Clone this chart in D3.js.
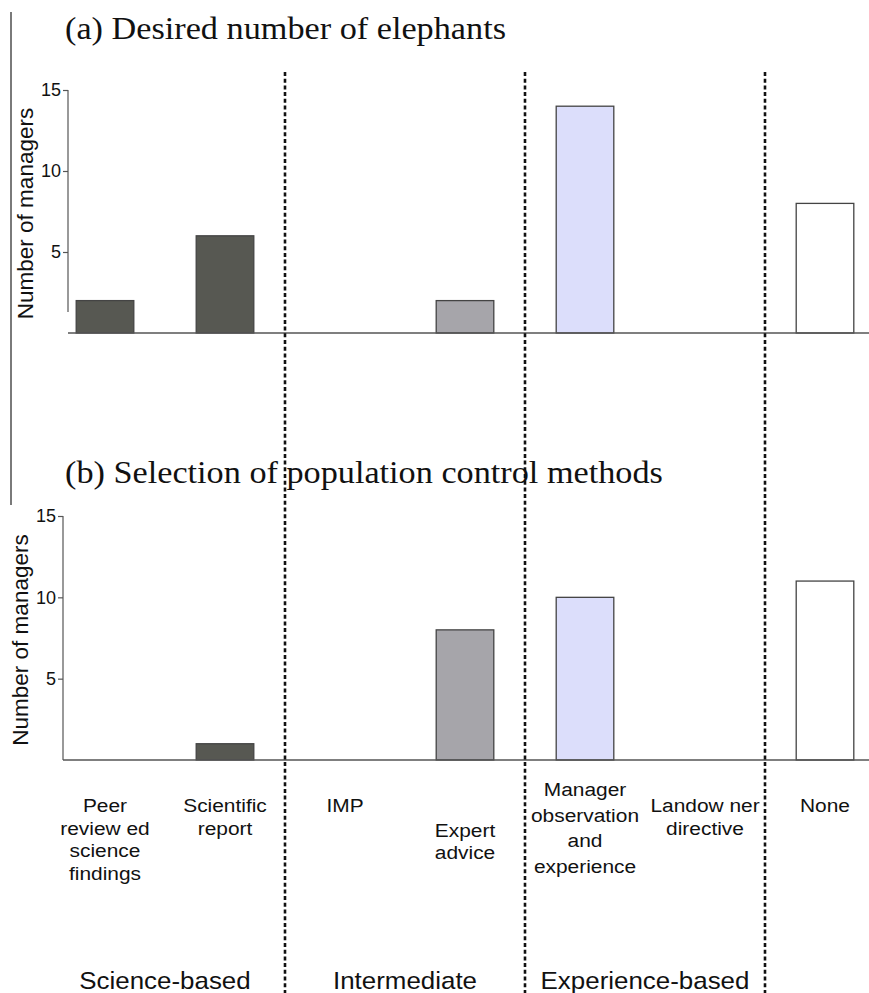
<!DOCTYPE html>
<html><head><meta charset="utf-8">
<script src="https://cdn.jsdelivr.net/npm/d3@7"></script>
<style>body{margin:0;background:#fff} svg{display:block}</style>
</head><body><svg id="c" width="869" height="993"></svg>
<script>
// ---------------- data ----------------
const categories = ["Peer reviewed science findings","Scientific report","IMP","Expert advice","Manager observation and experience","Landowner directive","None"];
const categoryLabelLines = [["Peer","review ed","science","findings"],["Scientific","report"],["IMP"],["Expert","advice"],["Manager","observation","and","experience"],["Landow ner","directive"],["None"]];
const categoryGroups = ["Science-based","Science-based","Intermediate","Intermediate","Experience-based","Experience-based","None"];
const groups = ["Science-based","Intermediate","Experience-based"];
const desiredNumber = [2,6,0,2,14,0,8];
const populationControl = [0,1,0,8,10,0,11];
const yTicks = [5,10,15];
const panelTitles = ["(a) Desired number of elephants","(b) Selection of population control methods"];
const yAxisTitle = "Number of managers";

// ---------------- layout / style ----------------
const W = 869, H = 993;
const groupColors = {"Science-based":"#575852","Intermediate":"#a6a5aa","Experience-based":"#dcdefb","None":"#ffffff"};
const SANS = "'Liberation Sans', Arial, Helvetica, sans-serif";
const SERIF = "'Liberation Serif', 'Times New Roman', serif";
const panels = [
  {values: desiredNumber, title: panelTitles[0], titleY: 39, axisX: 68, base: 333, top: 90, axisEnd: 1.3, labelX: 33},
  {values: populationControl, title: panelTitles[1], titleY: 483, axisX: 63, base: 760, top: 516, axisEnd: 0, labelX: 28}
];
const labelLayout = {
  "Expert advice": {y: 837, lh: 22},
  "Manager observation and experience": {y: 796, lh: 25.5},
  "Landowner directive": {y: 812, lh: 23}
};
const defaultLabelLayout = {y: 812, lh: 22.5};

const svg = d3.select("#c");
svg.append("rect").attr("width",W).attr("height",H).attr("fill","#fff");

const x = d3.scaleBand().domain(categories).range([45, 885]).paddingInner(0.52).paddingOuter(0.26);

function sText(g, px, py, txt, size, family, sx, anchor) {
  return g.append("text")
    .attr("transform", `translate(${px},${py}) scale(${sx},1)`)
    .attr("text-anchor", anchor)
    .attr("font-family", family)
    .attr("font-size", size)
    .attr("fill", "#111")
    .text(txt);
}

// left gray rule
svg.append("line").attr("x1",11).attr("x2",11).attr("y1",12).attr("y2",505)
  .attr("stroke","#7a7a7a").attr("stroke-width",2);

panels.forEach(p => {
  const g = svg.append("g");
  const y = d3.scaleLinear().domain([0,15]).range([p.base, p.top]);

  // title
  sText(g, 65, p.titleY, p.title, 32, SERIF, 1.07, "start");

  // y axis
  const ax = g.append("g").attr("transform",`translate(${p.axisX},0)`)
    .call(d3.axisLeft(y).tickValues(yTicks).tickSize(5).tickPadding(2).tickFormat(d3.format("d")));
  ax.select(".domain").remove();
  ax.selectAll(".tick line").attr("stroke","#555").attr("stroke-width",1.2);
  ax.selectAll(".tick text").attr("font-family",SANS).attr("font-size",18).attr("fill","#111");
  g.append("line").attr("x1",p.axisX).attr("x2",p.axisX).attr("y1",y(15)).attr("y2",y(p.axisEnd))
    .attr("stroke","#555").attr("stroke-width",1.2);

  // y axis title
  g.append("text")
    .attr("transform",`translate(${p.labelX},${(y(15)+y(0))/2 + 2}) rotate(-90)`)
    .attr("text-anchor","middle").attr("font-family",SANS).attr("font-size",22.5).attr("fill","#111")
    .text(yAxisTitle);

  // bars
  const data = categories.map((c,i) => ({c, v: p.values[i], grp: categoryGroups[i]})).filter(d => d.v > 0);
  g.selectAll("rect.bar").data(data).join("rect").attr("class","bar")
    .attr("x", d => x(d.c)).attr("width", x.bandwidth())
    .attr("y", d => y(d.v)).attr("height", d => y(0) - y(d.v))
    .attr("fill", d => groupColors[d.grp]).attr("stroke","#444").attr("stroke-width",1.3);

  // baseline
  g.append("line").attr("x1",p.axisX).attr("x2",W).attr("y1",y(0)).attr("y2",y(0))
    .attr("stroke","#555").attr("stroke-width",1.6);
});

// category labels
const lab = svg.append("g");
categories.forEach((c,i) => {
  const cx = x(c) + x.bandwidth()/2;
  const L = labelLayout[c] || defaultLabelLayout;
  categoryLabelLines[i].forEach((ln,j) => {
    sText(lab, cx, L.y + j*L.lh, ln, 19, SANS, 1.1, "middle");
  });
});

// group labels
groups.forEach(gname => {
  const members = categories.filter((c,i) => categoryGroups[i] === gname);
  const cx = d3.mean(members, c => x(c) + x.bandwidth()/2);
  sText(lab, cx, 989, gname, 24, SANS, 1.08, "middle");
});

// dotted dividers between groups
const allGroups = [...groups, "None"];
const divX = [];
for (let k = 0; k < allGroups.length - 1; k++) {
  const lastIdx = d3.max(categories.map((c,i) => categoryGroups[i] === allGroups[k] ? i : -1));
  const a = x(categories[lastIdx]) + x.bandwidth()/2;
  const b = x(categories[lastIdx+1]) + x.bandwidth()/2;
  divX.push((a+b)/2);
}
svg.append("g").selectAll("line").data(divX).join("line")
  .attr("x1",d=>d).attr("x2",d=>d).attr("y1",72).attr("y2",H)
  .attr("stroke","#111").attr("stroke-width",2.6).attr("stroke-dasharray","4,2.7");
</script>
</body></html>
